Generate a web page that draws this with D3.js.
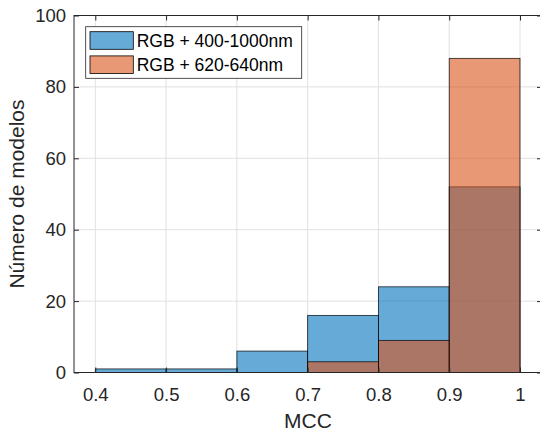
<!DOCTYPE html>
<html><head><meta charset="utf-8">
<script src="https://cdn.jsdelivr.net/npm/d3@7"></script>
<style>html,body{margin:0;padding:0;background:#fff;}svg{display:block;}</style>
</head><body>
<svg id="c" width="540" height="433"></svg>
<script>
const binEdges = [0.4, 0.5, 0.6, 0.7, 0.8, 0.9, 1.0];
const countsBroad = [1, 1, 6, 16, 24, 52];   // RGB + 400-1000nm
const countsNarrow = [0, 0, 0, 3, 9, 88];    // RGB + 620-640nm
const seriesNames = ["RGB + 400-1000nm", "RGB + 620-640nm"];
const seriesColors = ["#0072BD", "#D95319"];
const xTicks = [0.4, 0.5, 0.6, 0.7, 0.8, 0.9, 1.0];
const xTickLabels = ["0.4", "0.5", "0.6", "0.7", "0.8", "0.9", "1"];
const yTicks = [0, 20, 40, 60, 80, 100];
const yTickLabels = ["0", "20", "40", "60", "80", "100"];
const xLabel = "MCC";
const yLabel = "Número de modelos";

const svg = d3.select("#c");
const font = "'Liberation Sans', Arial, Helvetica, sans-serif";
const ink = "#262626";
const box = {l: 74, r: 542, t: 15.5, b: 372.5};
const x = d3.scaleLinear().domain([0.4, 1.0]).range([95.3, 520]);
const y = d3.scaleLinear().domain([0, 100]).range([box.b, box.t]);

// grid
const grid = svg.append("g");
grid.selectAll("line.gx").data(xTicks).join("line")
  .attr("x1", d => x(d)).attr("x2", d => x(d)).attr("y1", box.t).attr("y2", box.b)
  .attr("stroke", "#e0e0e0").attr("stroke-width", 1);
grid.selectAll("line.gy").data(yTicks).join("line")
  .attr("y1", d => y(d)).attr("y2", d => y(d)).attr("x1", box.l).attr("x2", box.r)
  .attr("stroke", "#e0e0e0").attr("stroke-width", 1);

// bars
function drawBars(counts, color) {
  const data = counts.map((c, i) => ({x0: binEdges[i], x1: binEdges[i + 1], c}));
  svg.append("g").selectAll("rect").data(data.filter(d => d.c > 0)).join("rect")
    .attr("x", d => x(d.x0)).attr("width", d => x(d.x1) - x(d.x0))
    .attr("y", d => y(d.c)).attr("height", d => y(0) - y(d.c))
    .attr("fill", color).attr("fill-opacity", 0.6)
    .attr("stroke", "#000").attr("stroke-opacity", 0.85).attr("stroke-width", 0.8);
}
drawBars(countsBroad, seriesColors[0]);
drawBars(countsNarrow, seriesColors[1]);

// axes
const xAxis = svg.append("g").attr("transform", `translate(0,${box.b})`)
  .call(d3.axisBottom(x).tickValues(xTicks).tickFormat((d, i) => xTickLabels[i]).tickSize(-5).tickPadding(15));
const xTop = svg.append("g").attr("transform", `translate(0,${box.t})`)
  .call(d3.axisTop(x).tickValues(xTicks).tickFormat("").tickSize(-5));
const yAxis = svg.append("g").attr("transform", `translate(${box.l},0)`)
  .call(d3.axisLeft(y).tickValues(yTicks).tickFormat((d, i) => yTickLabels[i]).tickSize(-5).tickPadding(8));
const yRight = svg.append("g").attr("transform", `translate(${box.r},0)`)
  .call(d3.axisRight(y).tickValues(yTicks).tickFormat("").tickSize(-5));
[xAxis, xTop, yAxis, yRight].forEach(g => {
  g.select(".domain").remove();
  g.selectAll(".tick line").attr("stroke", ink).attr("stroke-width", 1);
  g.selectAll(".tick text").attr("fill", ink).style("font-family", font).style("font-size", "18.5px");
});

// box
svg.append("rect").attr("x", box.l).attr("y", box.t)
  .attr("width", box.r - box.l).attr("height", box.b - box.t)
  .attr("fill", "none").attr("stroke", ink).attr("stroke-width", 1);

// labels
svg.append("text").attr("x", (box.l + box.r) / 2).attr("y", 428)
  .attr("text-anchor", "middle").attr("fill", ink)
  .style("font-family", font).style("font-size", "21px").text(xLabel);
svg.append("text").attr("transform", `translate(24,${(box.t + box.b) / 2}) rotate(-90)`)
  .attr("text-anchor", "middle").attr("fill", ink)
  .style("font-family", font).style("font-size", "21px").text(yLabel);

// legend
const lg = svg.append("g");
lg.append("rect").attr("x", 85.7).attr("y", 26.7).attr("width", 216).attr("height", 51.6)
  .attr("fill", "#fff").attr("stroke", ink).attr("stroke-width", 0.8);
const rowsY = [40.5, 64.7];
seriesNames.forEach((name, i) => {
  lg.append("rect").attr("x", 90).attr("y", rowsY[i] - 8.8).attr("width", 43.3).attr("height", 17.6)
    .attr("fill", seriesColors[i]).attr("fill-opacity", 0.6)
    .attr("stroke", "#000").attr("stroke-width", 0.8);
  lg.append("text").attr("x", 136.7).attr("y", rowsY[i] + 6.3).attr("fill", "#000")
    .style("font-family", font).style("font-size", "17.5px").text(name);
});
</script>
</body></html>
